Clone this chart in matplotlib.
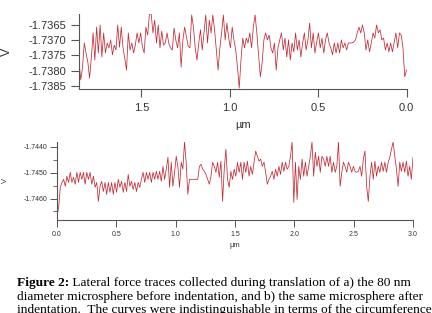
import numpy as np
import matplotlib
matplotlib.use('Agg')
import matplotlib.pyplot as plt
from matplotlib.ticker import MultipleLocator

# a) before indentation: lateral force, offsets in uV from -1.7370 V, scan 1.85 -> 0 um
top_base = -1.7370
top_scan = 1.853
top_uV = [
    -710, -1300, -880, -90, -420, -710, -1240, -580, 240, -650, 430, -420, 500, -550, 240,
    -420, -90, -250, 10, -480, -160,
    -320, 500, -230, 430, -250, -600, -980, 240, -320, -90, -420, -160, 240, -90, 240,
    -200, -420, 430, 170, 860,
    860, 240, 660, -90, 500, -250, 300, -160, -90, 240, -100, -250, -320, 400, 0, -250,
    240, -880, 10, 430, 120, -200, -250, 830, 430, -250, -650, -90, 340,
    -320, 240, 830, -90, 660, 240, 830, 340, -320, -980, -250, 240, 830, 10, 560, 70,
    -250, 430, 10, -320, -880, -1570, -650, 70, -250, 70, -90, 240, -250, 430, 830, 240,
    -480, -1200, -740, 10, 240, 10, 170, -250, -420, -90, -980, -250, 10,
    240, -320, 70, -550, 10, -650, -90, -380, 240, -320, 10, -550, -90, 240, -320, 10,
    560, -250, 240, -420, -60, 240, -250, 70, -420, 10, 240, -90, -250, -480, -90, -420,
    -90, -420, 10, -250, -90, -320, -90, -90, -90, -60,
    10, 240, 430, 240, 500, 240, -320, 10, -380, -90, 240, 70, 500, 240, 340, 10, 70,
    -320, -90, -380, -90, -380, -60, 240, -250, 240, 170, -250, -1200, -980,
]

# b) after indentation: offsets in uV from -1.7450 V, scan 0 -> 3 um
bot_base = -1.7450
bot_scan = 3.0
bot_uV = [
    -1730, -1310, -570, -380, -260, -530, -140, -380, 10, -380, -180, -450, 10, -380, 10,
    -260, 10, -450, 10, -260, 10, -450, -140, -570, -380, -1110, -530, -340, -730, -380,
    -840, -380, -760, -380, -840, -380, -760, -260, -570, -340, -760, -380, -730, -70,
    -530, -340, -650, -380, -730, -380, -570, -260, 10, -380, 10, -260, 10, -380, 10,
    -260, 50, -260, 50, -340, 240, -260, 130, 590, -570, 400, -530, 10, 630, 240, -570,
    400, 130, 1180, 400, -840, -260, -260, -260, -260, -260, -260, 240, 320, 130, 50,
    -70, -260, -450, -140, 400, 240,
    10, 400, -180, 440, -1110, 130, 900, -260, -570, 50, -260, 130, -140, 400, 10, 400,
    -260, 400, 10, 440, -140, 240, -70, 400, 830, 630, 440, 520, 240, 400, 10, -450,
    -260, -140, 50, -260, 130, -140, 240, -70, 400, 50, 400, 130, 240, 630, 1180, -1150,
    400, -1040, 240, -260, 520, -140, 400, -140, 240, 630, 1180, -140, 790, 240, 630, 10,
    630, 520, 240, 630, 240, 630, 10, 400, 10, 240, 1180, -530, 10, 400, 240, 10, 400,
    240, 10, 240, 50, 10, 50, 240, -140, 520, 830, -530, -1110, -140, 400, -260, 440,
    -140, 240, 10, 400, 50, 400, 10, 400, 590, 900, 1180, 630, 130, -530, 400, 50, 400,
    10, 440, -140, 240, -260, 590,
]

caption = [
    ("Figure 2:", " Lateral force traces collected during translation of a) the 80 nm"),
    ("", "diameter microsphere before indentation, and b) the same microsphere after"),
    ("", "indentation.  The curves were indistinguishable in terms of the circumference"),
]

plt.rcParams['font.family'] = ['Liberation Sans', 'DejaVu Sans']
line_col = '#c42a34'
spine_col = '#555555'
text_col = '#333333'

fig = plt.figure(figsize=(4.32, 3.13), dpi=100)

# top panel
ax1 = fig.add_axes([79 / 432, 1 - 89 / 313, 327.5 / 432, 75 / 313])
top_v = top_base + np.array(top_uV) * 1e-6
top_x = np.linspace(top_scan, 0, len(top_v))
ax1.plot(top_x, top_v, color=line_col, lw=0.55)
ax1.set_xlim(top_scan, 0)
ax1.set_ylim(-1.73860, -1.73614)
ax1.xaxis.set_major_locator(MultipleLocator(0.5))
ax1.yaxis.set_major_locator(MultipleLocator(0.0005))
ax1.yaxis.set_major_formatter(plt.FormatStrFormatter('%.4f'))
ax1.tick_params(labelsize=8, length=6, width=0.8, color=spine_col, labelcolor=text_col)
ax1.tick_params(axis='x', pad=4)
ax1.tick_params(axis='y', pad=3)
ax1.set_xlabel('µm', fontsize=8, color=text_col)
ax1.set_ylabel('V', fontsize=9, color=text_col)
ax1.xaxis.set_label_coords(0.5, -0.41)
ax1.yaxis.set_label_coords(-0.203, 0.5)

# bottom panel
ax2 = fig.add_axes([57 / 432, 1 - 219.5 / 313, 356 / 432, 77.5 / 313])
bot_v = bot_base + np.array(bot_uV) * 1e-6
bot_x = np.linspace(0, bot_scan, len(bot_v))
ax2.plot(bot_x, bot_v, color=line_col, lw=0.55)
ax2.set_xlim(0, bot_scan)
ax2.set_ylim(-1.74681, -1.74382)
ax2.xaxis.set_major_locator(MultipleLocator(0.5))
ax2.yaxis.set_major_locator(MultipleLocator(0.001))
ax2.yaxis.set_minor_locator(MultipleLocator(0.0005))
ax2.yaxis.set_major_formatter(plt.FormatStrFormatter('%.4f'))
ax2.tick_params(labelsize=5, length=5, width=0.7, color=spine_col, labelcolor=text_col)
ax2.tick_params(which='minor', length=3, width=0.6, color=spine_col)
ax2.tick_params(axis='x', pad=3)
ax2.tick_params(axis='y', pad=2)
ax2.set_xlabel('µm', fontsize=5.5, color=text_col)
ax2.set_ylabel('V', fontsize=5.5, color=text_col)
ax2.xaxis.set_label_coords(0.5, -0.29)
ax2.yaxis.set_label_coords(-0.135, 0.5)

for ax in (ax1, ax2):
    for s in ('top', 'right'):
        ax.spines[s].set_visible(False)
    for s in ('left', 'bottom'):
        ax.spines[s].set_color(spine_col)
        ax.spines[s].set_linewidth(0.8)

# caption below the plots
renderer = fig.canvas.get_renderer()
baselines = [286, 300, 313]
cap_font = dict(family='Liberation Serif', fontsize=9.6, color='black', va='baseline')
for (bold, rest), yb in zip(caption, baselines):
    x0 = 17 / 432
    y0 = 1 - yb / 313
    if bold:
        t = fig.text(x0, y0, bold, fontweight='bold', **cap_font)
        bb = t.get_window_extent(renderer)
        x0 = bb.x1 / fig.bbox.width
    fig.text(x0, y0, rest, **cap_font)

fig.savefig('out.png', dpi=100)
